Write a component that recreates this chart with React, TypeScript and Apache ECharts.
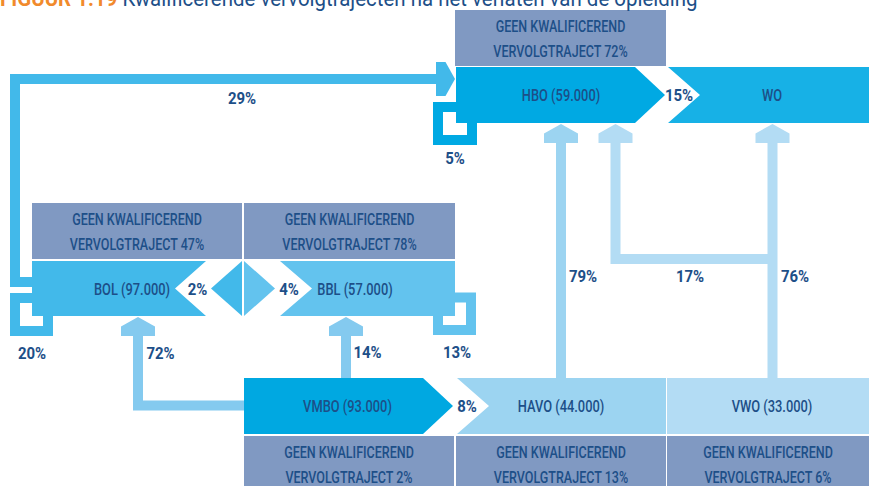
import React, { useEffect, useRef } from 'react';
import * as echarts from 'echarts';

// ---- data ----
const titleNumber = 'FIGUUR 1.19';
const titleText = 'Kwalificerende vervolgtrajecten na het verlaten van de opleiding';
const nodeNames = ['HBO', 'WO', 'BOL', 'BBL', 'VMBO', 'HAVO', 'VWO'];
const nodeStudents = [59000, null, 97000, 57000, 93000, 44000, 33000];
const noQualificationPct = [72, null, 47, 78, 2, 13, 6];
const flowFrom = ['BOL', 'HBO', 'HBO', 'BBL', 'BOL', 'BOL', 'BBL', 'VMBO', 'VMBO', 'VMBO', 'HAVO', 'VWO', 'VWO'];
const flowTo = ['HBO', 'HBO', 'WO', 'BOL', 'BBL', 'BOL', 'BBL', 'BOL', 'BBL', 'HAVO', 'HBO', 'HBO', 'WO'];
const flowPct = [29, 5, 15, 2, 4, 20, 13, 72, 14, 8, 79, 17, 76];
const noQualLine1 = 'GEEN KWALIFICEREND';
const noQualLine2 = 'VERVOLGTRAJECT';

// ---- style ----
const COL = {
  text: '#1d4f88',
  gray: '#8099c2',
  HBO: '#00a9e3',
  WO: '#17b1e6',
  BOL: '#42b9ea',
  BBL: '#63c3ee',
  VMBO: '#00a8e1',
  HAVO: '#9cd4f1',
  VWO: '#b3dcf4',
  vmboArrow: '#84caef',
  orange: '#f18a2c',
};
const FONT = 'Roboto, "Noto Sans", sans-serif';

// ---- layout (positions only) ----
const ROW = {
  top: { y0: 67, y1: 123, g0: 10, g1: 66 },
  mid: { y0: 261, y1: 316, g0: 203, g1: 259 },
  bot: { y0: 378, y1: 434, g0: 436, g1: 492 },
};
const nodeLayout: Record<string, any> = {
  HBO: { row: 'top', x0: 456, x1: 665, gx0: 455, gx1: 666, cx: 561 },
  WO: { row: 'top', x0: 668, x1: 869, cx: 772 },
  BOL: { row: 'mid', x0: 32, x1: 206, gx0: 32, gx1: 242, cx: 132 },
  BBL: { row: 'mid', x0: 280, x1: 455, gx0: 244, gx1: 455, cx: 355 },
  VMBO: { row: 'bot', x0: 244, x1: 453, gx0: 244, gx1: 454, cx: 347.5 },
  HAVO: { row: 'bot', x0: 457, x1: 666, gx0: 456, gx1: 666, cx: 561 },
  VWO: { row: 'bot', x0: 667, x1: 869, gx0: 667, gx1: 869, cx: 772 },
};
const flowLabelPos: number[][] = [
  [242, 98], [455, 158], [679, 95], [197.5, 289], [289, 289], [32, 353], [457, 352],
  [160.5, 353], [367.5, 352], [467, 406], [583, 276], [690, 276], [795, 276],
];

function fmt(n: number) {
  return String(n).replace(/\B(?=(\d{3})+(?!\d))/g, '.');
}

function poly(points: number[][], fill: string) {
  return { type: 'polygon', shape: { points }, style: { fill }, silent: true };
}
function rect(x: number, y: number, w: number, h: number, fill: string) {
  return { type: 'rect', shape: { x, y, width: w, height: h }, style: { fill }, silent: true };
}
function pline(points: number[][], color: string) {
  return {
    type: 'polyline',
    shape: { points },
    style: { stroke: color, lineWidth: 10, fill: null, lineJoin: 'miter', lineCap: 'butt' },
    silent: true,
  };
}
function upHead(cx: number, t: number, color: string) {
  return poly([[cx, t], [cx + 17, t + 9.5], [cx + 17, t + 19], [cx - 17, t + 19], [cx - 17, t + 9.5]], color);
}
function rightHead(tx: number, cy: number, color: string) {
  return poly([[tx, cy], [tx - 9.5, cy - 17], [tx - 19, cy - 17], [tx - 19, cy + 17], [tx - 9.5, cy + 17]], color);
}
function label(text: string, x: number, y: number, weight: string | number, sx = 0.8, size = 16.5) {
  return {
    type: 'text',
    x,
    y,
    scaleX: sx,
    silent: true,
    style: {
      text,
      x: 0,
      y: 0,
      fill: COL.text,
      textAlign: 'center',
      textVerticalAlign: 'middle',
      align: 'center',
      verticalAlign: 'middle',
      fontSize: size,
      fontWeight: weight,
      fontFamily: FONT,
    },
  };
}

function buildElements() {
  const els: any[] = [];
  // flows: arrows and loops (drawn first)
  // BOL -> HBO (29%)
  els.push(pline([[32, 282], [15, 282], [15, 79], [440, 79]], COL.BOL));
  els.push(rightHead(455, 79, COL.BOL));
  // HBO loop (5%)
  els.push(pline([[456, 107], [438, 107], [438, 140], [472, 140], [472, 123]], COL.HBO));
  // BOL loop (20%)
  els.push(pline([[32, 298], [15, 298], [15, 331], [48, 331], [48, 316]], COL.BOL));
  // BBL loop (13%)
  els.push(pline([[455, 297.5], [471, 297.5], [471, 330], [438, 330], [438, 316]], COL.BBL));
  // VMBO -> BOL (72%)
  els.push(pline([[244, 405.5], [138, 405.5], [138, 330]], COL.vmboArrow));
  els.push(upHead(138, 317, COL.vmboArrow));
  // VMBO -> BBL (14%)
  els.push(pline([[346, 378], [346, 330]], COL.vmboArrow));
  els.push(upHead(346, 317, COL.vmboArrow));
  // HAVO -> HBO (79%)
  els.push(pline([[561, 378], [561, 137]], COL.HAVO));
  els.push(upHead(561, 124, COL.HAVO));
  // VWO -> HBO (17%)
  els.push(pline([[772.5, 259], [615.5, 259], [615.5, 137]], COL.VWO));
  els.push(upHead(615.5, 124, COL.VWO));
  // VWO -> WO (76%)
  els.push(pline([[772.5, 378], [772.5, 137]], COL.VWO));
  els.push(upHead(772.5, 124, COL.VWO));

  // node boxes
  nodeNames.forEach((name, i) => {
    const L = nodeLayout[name];
    const R = (ROW as any)[L.row];
    const ym = (R.y0 + R.y1) / 2;
    let pts: number[][];
    if (name === 'HBO' || name === 'VMBO') {
      const xr = L.x1 - 30;
      pts = [[L.x0, R.y0], [xr, R.y0], [L.x1, ym], [xr, R.y1], [L.x0, R.y1]];
    } else if (name === 'WO' || name === 'HAVO' || name === 'BBL') {
      pts = [[L.x0, R.y0], [L.x1, R.y0], [L.x1, R.y1], [L.x0, R.y1], [L.x0 + 32, ym]];
    } else if (name === 'BOL') {
      pts = [[L.x0, R.y0], [L.x1, R.y0], [L.x1 - 31, ym], [L.x1, R.y1], [L.x0, R.y1]];
    } else {
      pts = [[L.x0, R.y0], [L.x1, R.y0], [L.x1, R.y1], [L.x0, R.y1]];
    }
    els.push(poly(pts, (COL as any)[name]));
    if (noQualificationPct[i] != null) {
      els.push(rect(L.gx0, R.g0, L.gx1 - L.gx0, R.g1 - R.g0, COL.gray));
      const gc = (L.gx0 + L.gx1) / 2;
      const gm = (R.g0 + R.g1) / 2;
      els.push(label(noQualLine1, gc, gm - 12, 500, 0.76));
      els.push(label(noQualLine2 + ' ' + noQualificationPct[i] + '%', gc, gm + 13, 500, 0.76));
    }
    const txt = nodeStudents[i] != null ? `${name} (${fmt(nodeStudents[i] as number)})` : name;
    els.push(label(txt, L.cx, ym + 0.5, 500, 0.78));
  });
  // BOL/BBL exchange diamond
  const mR = ROW.mid;
  const mm = (mR.y0 + mR.y1) / 2;
  els.push(poly([[211, mm], [242, mR.y0], [242, mR.y1]], COL.BOL));
  els.push(poly([[244, mR.y0], [244, mR.y1], [275, mm]], COL.BBL));

  // flow labels
  flowPct.forEach((p, i) => {
    const [x, y] = flowLabelPos[i];
    els.push(label(p + '%', x, y, 'bold', 0.88, 17));
  });

  // title
  els.push({
    type: 'text',
    x: 0,
    y: -2,
    scaleX: 0.93,
    silent: true,
    style: {
      text: `{a|${titleNumber}} {b|${titleText}}`,
      x: 0,
      y: 0,
      textVerticalAlign: 'middle',
      verticalAlign: 'middle',
      rich: {
        a: { fill: COL.orange, color: COL.orange, fontWeight: 'bold', fontSize: 22, fontFamily: FONT },
        b: { fill: COL.text, color: COL.text, fontSize: 22, fontFamily: FONT },
      },
      fontSize: 22,
      fontFamily: FONT,
    },
  });
  return els;
}

export default function App() {
  const ref = useRef<HTMLDivElement>(null);
  useEffect(() => {
    if (!ref.current) return;
    const chart = echarts.init(ref.current, undefined, { renderer: 'svg' });
    chart.setOption({
      animation: false,
      backgroundColor: '#ffffff',
      graphic: { elements: buildElements() },
    });
    return () => chart.dispose();
  }, []);
  return (
    <div
      ref={ref}
      style={{ position: 'absolute', left: 0, top: 0, width: 869, height: 486, background: '#fff' }}
    />
  );
}
